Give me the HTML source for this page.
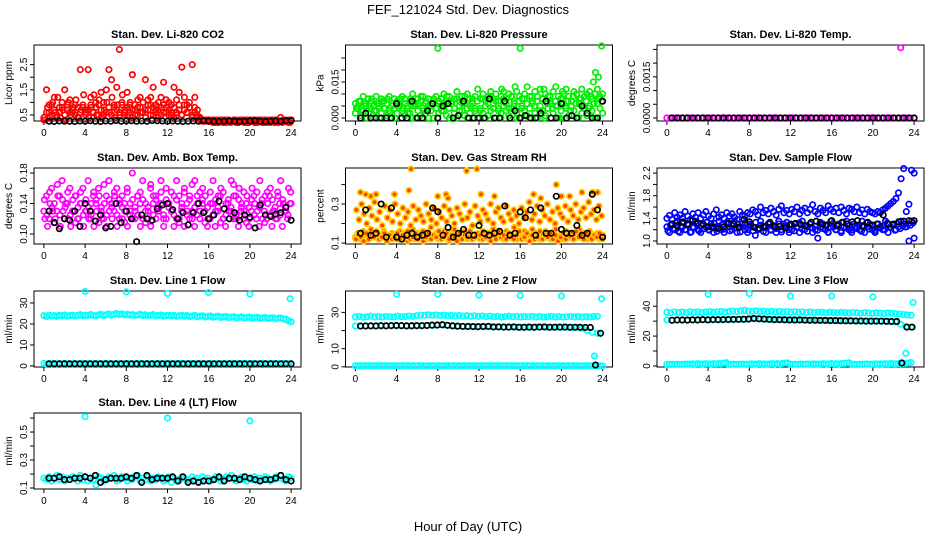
<!DOCTYPE html>
<html><head><meta charset="utf-8">
<style>
body{margin:0;background:#fff;}
svg{display:block;font-family:"Liberation Sans",sans-serif;}
</style></head>
<body>
<svg id="chart" width="936" height="540" viewBox="0 0 936 540">
<text x="468" y="14" text-anchor="middle" font-size="13">FEF_121024  Std. Dev. Diagnostics</text>
<text x="468" y="531" text-anchor="middle" font-size="13">Hour of Day (UTC)</text>
</svg>
<script>
// ---------- data ----------
const xTicks = [0,4,8,12,16,20,24];

const co2A = [0.3,1.5,0.6,0.9,1.2,0.5,0.8,1.0,1.5,0.7,1.1,0.6,0.9,0.4,2.3,0.8,
0.7,2.3,1.2,0.6,1.0,0.9,1.4,0.5,1.5,2.3,1.9,0.8,1.6,3.1,1.0,0.6,
1.4,0.9,2.1,0.5,0.8,1.2,0.6,1.9,1.1,0.9,1.6,0.7,1.0,1.2,1.8,0.8,
1.0,0.6,1.6,0.5,1.4,2.4,1.2,0.9,0.8,2.5,1.2,0.7,0.4,0.3,0.3,0.3,
0.3,0.2,0.3,0.2,0.3,0.3,0.2,0.3,0.25,0.3,0.2,0.3,0.3,0.2,0.3,0.25,
0.3,0.2,0.3,0.3,0.2,0.3,0.25,0.2,0.3,0.3,0.2,0.4,0.3,0.25,0.3,0.3];
const co2B = [0.4,0.6,0.9,0.5,0.7,0.4,0.6,0.8,0.5,0.9,0.6,0.7,0.5,0.8,0.6,0.9,
0.5,0.7,0.9,0.6,0.8,0.5,0.7,1.0,0.6,0.8,0.5,0.9,0.7,0.6,0.9,0.5,
0.8,0.6,0.7,0.9,0.5,0.8,0.6,0.7,0.9,0.5,0.8,0.6,0.7,0.5,0.9,0.6,
0.7,0.5,0.8,0.6,0.9,0.5,0.7,0.6,0.8,0.5,0.6,0.4,0.3,0.25,0.3,0.25,
0.25,0.3,0.2,0.25,0.3,0.25,0.2,0.3,0.25,0.3,0.2,0.25,0.3,0.25,0.2,0.3,
0.25,0.3,0.2,0.25,0.3,0.25,0.2,0.3,0.25,0.3,0.2,0.25,0.3,0.25,0.2,0.3];
const co2C = [0.3,0.8,0.4,1.0,0.6,1.2,0.4,0.7,0.3,1.0,0.5,0.8,1.1,0.4,0.7,1.3,
0.6,0.4,0.8,1.3,0.5,1.1,0.4,0.7,1.0,0.6,1.2,0.4,0.9,0.5,1.3,0.7,
0.5,1.0,0.4,0.7,1.1,0.6,1.0,0.4,0.7,1.2,0.5,0.9,0.4,0.8,0.6,1.1,
0.5,0.9,0.4,1.1,0.7,0.5,0.9,0.6,1.0,0.4,0.8,0.5,0.35,0.3,0.25,0.3,
0.3,0.25,0.2,0.3,0.25,0.2,0.3,0.3,0.2,0.25,0.3,0.2,0.25,0.3,0.3,0.2,
0.25,0.3,0.2,0.3,0.25,0.2,0.3,0.25,0.3,0.2,0.3,0.25,0.2,0.3,0.25,0.2];
const co2Black = [0.25,0.24,0.26,0.25,0.25,0.24,0.26,0.25,0.27,0.25,0.24,0.26,0.25,0.28,0.25,0.26,0.27,0.25,0.26,0.25,0.28,0.27,0.26,0.25,0.26,0.25,0.24,0.25,0.26,0.25,0.27,0.26,0.25,0.24,0.25,0.26,0.25,0.24,0.25,0.26,0.27,0.25,0.24,0.25,0.26,0.25,0.27,0.28];

const pressA = [0.006,0.005,0.007,0.009,0.006,0.008,0.007,0.005,0.009,0.006,0.008,0.007,0.006,0.009,0.005,0.008,
0.007,0.006,0.009,0.008,0.005,0.007,0.010,0.006,0.008,0.007,0.009,0.006,0.008,0.005,0.007,0.009,
0.006,0.008,0.010,0.007,0.009,0.006,0.008,0.011,0.007,0.009,0.006,0.010,0.008,0.007,0.009,0.012,
0.008,0.010,0.007,0.009,0.011,0.008,0.010,0.007,0.009,0.011,0.008,0.010,0.009,0.007,0.011,0.009,
0.008,0.010,0.013,0.009,0.007,0.011,0.009,0.012,0.008,0.010,0.009,0.007,0.011,0.013,0.009,0.008,
0.010,0.012,0.009,0.007,0.011,0.010,0.008,0.012,0.009,0.010,0.011,0.008,0.010,0.012,0.009,0.010];
const pressB = [0.002,0.004,0.001,0.003,0.005,0.002,0.004,0.000,0.003,0.005,0.002,0.004,0.001,0.003,0.000,0.004,
0.002,0.005,0.003,0.001,0.004,0.002,0.000,0.005,0.003,0.001,0.004,0.002,0.005,0.003,0.000,0.004,
0.002,0.005,0.003,0.001,0.004,0.006,0.002,0.000,0.005,0.003,0.001,0.004,0.002,0.006,0.003,0.000,
0.004,0.002,0.005,0.001,0.003,0.006,0.000,0.004,0.002,0.005,0.003,0.001,0.004,0.006,0.002,0.000,
0.005,0.003,0.001,0.004,0.006,0.002,0.000,0.005,0.003,0.001,0.004,0.006,0.002,0.005,0.000,0.003,
0.006,0.004,0.001,0.005,0.003,0.000,0.006,0.002,0.004,0.001,0.005,0.003,0.000,0.006,0.004,0.002];
const pressC = [0.004,0.007,0.003,0.006,0.000,0.005,0.008,0.003,0.006,0.000,0.007,0.004,0.008,0.002,0.006,0.000,
0.005,0.008,0.004,0.006,0.002,0.008,0.005,0.000,0.006,0.009,0.003,0.007,0.000,0.006,0.008,0.004,
0.007,0.003,0.006,0.009,0.000,0.007,0.004,0.008,0.003,0.006,0.009,0.000,0.005,0.008,0.004,0.007,
0.003,0.008,0.000,0.006,0.009,0.004,0.007,0.003,0.000,0.008,0.006,0.004,0.009,0.005,0.000,0.007,
0.004,0.008,0.006,0.000,0.009,0.005,0.007,0.003,0.008,0.000,0.006,0.009,0.004,0.007,0.005,0.000,
0.008,0.005,0.007,0.003,0.009,0.006,0.000,0.008,0.005,0.007,0.004,0.009,0.006,0.000,0.008,0.007];
const pressOutHours = [8,16,23.9,23.3,23.6,23.1,18.3,15.5,14.2,20.1];
const pressOutVals = [0.029,0.029,0.030,0.019,0.017,0.015,0.012,0.013,0.012,0.011];
const pressBlack = [0.000,0.002,0.000,0.000,0.000,0.000,0.000,0.006,0.000,0.000,0.007,0.000,0.000,0.003,0.006,0.000,0.005,0.006,0.000,0.001,0.007,0.000,0.000,0.000,0.000,0.008,0.000,0.000,0.007,0.000,0.003,0.000,0.001,0.000,0.000,0.002,0.007,0.000,0.000,0.006,0.000,0.001,0.000,0.005,0.002,0.000,0.000,0.007];

const tempMag = [0,0,0,0,0,0,0,0,0,0,0,0,0,0,0,0,0,0,0,0,0,0,0,0,0,0,0,0,0,0,0,0,0,0,0,0,0,0,0,0,0,0,0,0,0,0,0,0,0,0,0,0,0,0,0,0,0,0,0,0,0,0,0,0];
const tempBlack = [0,0,0,0,0,0,0,0,0,0,0,0,0,0,0,0,0,0,0,0,0,0,0,0,0,0,0,0,0,0,0,0,0,0,0,0,0,0,0,0,0,0,0,0,0,0,0,0];
const tempOutHours = [22.7];
const tempOutVals = [0.00256];

const ambA = [0.13,0.15,0.12,0.16,0.14,0.13,0.15,0.17,0.12,0.14,0.16,0.13,0.15,0.12,0.14,0.16,
0.13,0.17,0.12,0.15,0.14,0.16,0.13,0.12,0.15,0.17,0.14,0.13,0.16,0.12,0.15,0.14,
0.16,0.13,0.18,0.12,0.15,0.14,0.17,0.13,0.12,0.16,0.14,0.15,0.13,0.17,0.12,0.16,
0.14,0.13,0.15,0.17,0.12,0.14,0.16,0.13,0.15,0.12,0.17,0.14,0.13,0.16,0.15,0.12,
0.14,0.17,0.13,0.15,0.16,0.12,0.14,0.13,0.17,0.15,0.12,0.16,0.14,0.13,0.15,0.12,
0.16,0.14,0.13,0.17,0.12,0.15,0.14,0.16,0.13,0.12,0.15,0.17,0.14,0.13,0.16,0.14];
const ambB = [0.12,0.11,0.14,0.13,0.12,0.15,0.11,0.13,0.14,0.12,0.11,0.13,0.15,0.12,0.14,0.11,
0.13,0.12,0.14,0.11,0.13,0.15,0.12,0.14,0.11,0.13,0.12,0.15,0.11,0.14,0.12,0.13,
0.11,0.14,0.12,0.13,0.15,0.11,0.12,0.14,0.13,0.11,0.15,0.12,0.13,0.14,0.11,0.12,
0.14,0.13,0.11,0.12,0.15,0.13,0.11,0.14,0.12,0.13,0.11,0.15,0.12,0.14,0.13,0.11,
0.12,0.14,0.11,0.13,0.15,0.12,0.11,0.14,0.13,0.12,0.15,0.11,0.13,0.12,0.14,0.11,
0.13,0.15,0.12,0.11,0.14,0.13,0.12,0.15,0.11,0.13,0.12,0.14,0.11,0.13,0.12,0.14];
const ambC = [0.145,0.125,0.155,0.135,0.115,0.165,0.125,0.145,0.135,0.155,0.125,0.145,0.115,0.135,0.155,0.125,
0.145,0.135,0.125,0.155,0.145,0.115,0.135,0.165,0.125,0.145,0.135,0.155,0.125,0.145,0.135,0.115,
0.155,0.125,0.145,0.135,0.125,0.155,0.145,0.115,0.135,0.165,0.125,0.145,0.135,0.155,0.125,0.145,
0.135,0.155,0.125,0.145,0.115,0.135,0.155,0.125,0.145,0.165,0.135,0.125,0.155,0.145,0.115,0.135,
0.155,0.125,0.145,0.135,0.115,0.155,0.125,0.145,0.135,0.165,0.125,0.145,0.135,0.155,0.115,0.135,
0.145,0.125,0.155,0.135,0.145,0.115,0.155,0.125,0.145,0.135,0.155,0.125,0.145,0.135,0.125,0.155];
const ambBlack = [0.13,0.115,0.107,0.12,0.118,0.13,0.11,0.14,0.13,0.117,0.125,0.108,0.11,0.14,0.115,0.13,0.12,0.09,0.125,0.12,0.118,0.133,0.138,0.14,0.132,0.12,0.128,0.112,0.128,0.14,0.128,0.12,0.125,0.143,0.133,0.12,0.128,0.118,0.125,0.122,0.108,0.138,0.125,0.123,0.126,0.128,0.135,0.118];

const rhA = [0.13,0.15,0.12,0.16,0.14,0.12,0.17,0.13,0.15,0.12,0.14,0.16,0.13,0.12,0.15,0.14,
0.12,0.16,0.13,0.15,0.11,0.14,0.17,0.12,0.15,0.13,0.16,0.12,0.14,0.18,0.13,0.15,
0.12,0.14,0.16,0.13,0.11,0.15,0.17,0.12,0.14,0.13,0.16,0.12,0.15,0.19,0.13,0.14,
0.12,0.16,0.13,0.15,0.12,0.17,0.14,0.13,0.15,0.12,0.16,0.13,0.14,0.18,0.12,0.15,
0.13,0.16,0.12,0.14,0.17,0.13,0.15,0.12,0.14,0.16,0.13,0.12,0.15,0.17,0.13,0.14,
0.12,0.16,0.13,0.15,0.12,0.14,0.17,0.13,0.15,0.12,0.16,0.14,0.13,0.15,0.12,0.14];
const rhB = [0.27,0.22,0.30,0.25,0.20,0.28,0.24,0.31,0.22,0.26,0.19,0.29,0.23,0.27,0.21,0.30,
0.25,0.20,0.28,0.23,0.26,0.19,0.29,0.22,0.27,0.24,0.21,0.30,0.25,0.22,0.28,0.20,
0.26,0.23,0.29,0.21,0.27,0.24,0.20,0.28,0.25,0.22,0.30,0.23,0.26,0.19,0.29,0.24,
0.21,0.27,0.25,0.22,0.30,0.20,0.26,0.28,0.23,0.21,0.29,0.25,0.22,0.27,0.24,0.20,
0.28,0.23,0.26,0.31,0.22,0.25,0.29,0.21,0.27,0.24,0.30,0.22,0.26,0.20,0.28,0.25,
0.23,0.29,0.21,0.27,0.24,0.30,0.22,0.26,0.28,0.23,0.31,0.25,0.27,0.22,0.29,0.24];
const rhC = [0.12,0.14,0.13,0.11,0.15,0.12,0.14,0.13,0.16,0.12,0.13,0.15,0.11,0.14,0.12,0.13,
0.15,0.12,0.14,0.13,0.16,0.12,0.13,0.15,0.12,0.14,0.11,0.13,0.15,0.12,0.14,0.13,
0.16,0.12,0.13,0.15,0.12,0.14,0.13,0.11,0.15,0.12,0.14,0.13,0.16,0.12,0.13,0.15,
0.14,0.12,0.13,0.15,0.11,0.14,0.12,0.16,0.13,0.14,0.12,0.15,0.13,0.12,0.14,0.16,
0.12,0.13,0.15,0.11,0.14,0.12,0.13,0.16,0.12,0.14,0.13,0.15,0.12,0.14,0.11,0.13,
0.15,0.12,0.14,0.13,0.12,0.16,0.13,0.14,0.12,0.15,0.13,0.12,0.14,0.13,0.15,0.12];
const rhOutHours = [0.5,1.0,1.5,2.0,3.8,5.2,5.4,8.0,8.8,10.8,11.8,12.2,17.3,18.0,20.0,22.0,23.0,23.5,9.0,13.5,19.5,20.8];
const rhOutVals = [0.36,0.35,0.34,0.35,0.35,0.37,0.48,0.34,0.35,0.47,0.48,0.35,0.35,0.33,0.34,0.36,0.36,0.36,0.33,0.34,0.40,0.34];
const rhBlack = [0.15,0.27,0.14,0.15,0.30,0.13,0.28,0.13,0.12,0.14,0.15,0.13,0.14,0.15,0.28,0.26,0.14,0.18,0.13,0.15,0.17,0.14,0.14,0.19,0.15,0.14,0.15,0.16,0.29,0.14,0.15,0.26,0.23,0.27,0.14,0.28,0.15,0.15,0.34,0.17,0.15,0.15,0.19,0.14,0.15,0.35,0.27,0.13];

const sflowA = [1.25,1.15,1.30,1.20,1.35,1.15,1.25,1.20,1.30,1.15,1.25,1.35,1.20,1.15,1.30,1.25,
1.20,1.30,1.15,1.25,1.35,1.20,1.15,1.30,1.25,1.20,1.35,1.15,1.25,1.30,1.20,1.15,
1.30,1.25,1.10,1.20,1.35,1.25,1.15,1.30,1.20,1.25,1.15,1.35,1.20,1.30,1.25,1.15,
1.20,1.30,1.25,1.15,1.35,1.20,1.25,1.30,1.15,1.20,1.05,1.25,1.30,1.20,1.15,1.35,
1.25,1.20,1.30,1.15,1.25,1.35,1.20,1.15,1.30,1.25,1.20,1.35,1.15,1.25,1.30,1.20,
1.15,1.30,1.25,1.20,1.35,1.15,1.25,1.30,1.20,1.25,1.35,1.30,1.25,1.00,1.35,1.05];
const sflowB = [1.40,1.45,1.38,1.50,1.42,1.46,1.40,1.52,1.44,1.38,1.48,1.42,1.50,1.40,1.46,1.52,
1.44,1.40,1.48,1.55,1.42,1.46,1.40,1.50,1.44,1.48,1.42,1.38,1.52,1.46,1.44,1.50,
1.48,1.55,1.52,1.46,1.60,1.50,1.54,1.48,1.58,1.52,1.46,1.56,1.62,1.50,1.54,1.48,
1.56,1.52,1.60,1.48,1.54,1.58,1.50,1.56,1.64,1.52,1.48,1.58,1.54,1.50,1.62,1.56,
1.52,1.58,1.50,1.60,1.54,1.48,1.58,1.56,1.52,1.60,1.50,1.55,1.48,1.56,1.52,1.50,
1.48,1.52,1.50,1.55,1.58,1.62,1.66,1.70,1.75,1.85,2.10,2.28,1.52,1.65,2.25,2.20];
const sflowC = [1.18,1.28,1.22,1.32,1.17,1.26,1.34,1.20,1.28,1.16,1.24,1.30,1.18,1.27,1.22,1.33,
1.19,1.26,1.31,1.17,1.24,1.29,1.21,1.34,1.18,1.27,1.23,1.30,1.16,1.25,1.32,1.20,
1.27,1.18,1.33,1.22,1.28,1.17,1.25,1.31,1.19,1.27,1.22,1.30,1.16,1.26,1.33,1.20,
1.28,1.18,1.24,1.32,1.21,1.27,1.17,1.30,1.23,1.26,1.19,1.33,1.22,1.28,1.16,1.25,
1.31,1.20,1.27,1.18,1.33,1.23,1.26,1.19,1.30,1.22,1.28,1.17,1.25,1.32,1.21,1.27,
1.18,1.30,1.23,1.26,1.20,1.32,1.24,1.28,1.19,1.30,1.22,1.27,1.25,1.30,1.28,1.32];
const sflowBlack = [1.30,1.27,1.33,1.30,1.36,1.32,1.30,1.25,1.24,1.22,1.25,1.31,1.30,1.24,1.38,1.34,1.24,1.22,1.26,1.33,1.25,1.26,1.23,1.30,1.31,1.29,1.27,1.33,1.35,1.30,1.28,1.36,1.27,1.33,1.30,1.34,1.36,1.27,1.33,1.28,1.30,1.46,1.30,1.29,1.34,1.35,1.36,1.36];

const l1Top = [24,23.5,24.2,23.8,24,23.6,24.1,23.9,24.3,23.7,24,24.2,23.8,24.1,24.4,23.9,
24.2,24,24.5,24.1,23.8,24.3,24.6,24,24.4,24.8,24.2,24.6,25,24.5,24.8,24.3,
24.6,24.2,24.5,24.1,24.3,24.6,24,24.4,23.9,24.2,24.5,23.8,24.1,24.3,23.7,24,
24.2,23.8,24.1,23.6,23.9,24.2,23.7,24,23.5,23.8,24.1,23.4,23.7,23.9,23.3,23.6,
23.8,23.2,23.5,23.7,23.1,23.4,23.6,23,23.3,23.5,22.9,23.2,23.4,22.8,23.1,23.3,
22.8,23,23.2,22.7,22.9,23.1,22.6,22.8,23,22.5,22.7,22.9,22.4,22.3,21.5,21];
const l1Bottom = [1.2,1,1.1,1,1.2,1,1.1,1,1.2,1,1.1,1,1.2,1,1.1,1,1.2,1,1.1,1,1.2,1,1.1,1,
1.2,1,1.1,1,1.2,1,1.1,1,1.2,1,1.1,1,1.2,1,1.1,1,1.2,1,1.1,1,1.2,1,1.1,1,
1.2,1,1.1,1,1.2,1,1.1,1,1.2,1,1.1,1,1.2,1,1.1,1,1.2,1,1.1,1,1.2,1,1.1,1,
1.2,1,1.1,1,1.2,1,1.1,1,1.2,1,1.1,1,1.2,1,1.1,1,1.2,1,1.1,1,1.2,1,1.1,1];
const l1Black = [1,1,1,1,1,1,1,1,1,1,1,1,1,1,1,1,1,1,1,1,1,1,1,1,1,1,1,1,1,1,1,1,1,1,1,1,1,1,1,1,1,1,1,1,1,1,1,1];
const l1OutHours = [4,8,12,16,20,23.9];
const l1OutVals = [35.5,35.3,34.5,35,34.2,32];

const l2Top = [27.5,27.8,27.4,27.6,27.9,27.5,27.7,27.4,27.8,27.6,27.5,27.9,27.6,27.7,28,27.8,
28.2,28.5,28.3,28.7,28.4,28.6,28.3,28.5,28.2,28.4,28.1,28.3,28,28.2,27.9,28.1,
27.8,28,27.7,27.9,27.6,27.8,27.5,27.7,27.9,27.6,27.8,27.5,27.7,27.6,27.8,27.5,
27.7,27.4,27.6,27.8,27.5,27.7,27.4,27.6,27.8,27.5,27.7,27.4,27.6,27.5,27.7,27.8];
const l2Mid = [22.5,22.4,22.6,22.5,22.7,22.5,22.6,22.8,22.6,22.7,22.5,22.8,22.6,22.7,22.9,22.7,
23.2,23,22.8,22.6,22.5,22.3,22.4,22.2,22.3,22.1,22.2,22,22.1,22,21.9,22,
21.8,21.9,21.8,22,21.9,21.8,21.9,22,21.8,21.9,21.7,21.8,21.2,20,19,18.5];
const l2Bottom = [0.6,0.5,0.6,0.5,0.6,0.5,0.6,0.5,0.6,0.5,0.6,0.5,0.6,0.5,0.6,0.5,0.6,0.5,0.6,0.5,0.6,0.5,0.6,0.5,
0.6,0.5,0.6,0.5,0.6,0.5,0.6,0.5,0.6,0.5,0.6,0.5,0.6,0.5,0.6,0.5,0.6,0.5,0.6,0.5,0.6,0.5,0.6,0.5,
0.6,0.5,0.6,0.5,0.6,0.5,0.6,0.5,0.6,0.5,0.6,0.5,0.6,0.5,0.6,0.5,0.6,0.5,0.6,0.5,0.6,0.5,0.6,0.5,
0.6,0.5,0.6,0.5,0.6,0.5,0.6,0.5,0.6,0.5,0.6,0.5,0.6,0.5,0.6,0.5,0.6,0.5,0.6,0.5,0.6,0.5,0.6,0.5];
const l2Black = [22.5,22.5,22.6,22.5,22.7,22.6,22.7,22.8,22.7,22.6,22.6,22.7,22.7,22.8,23,23,23.2,22.9,22.6,22.4,22.3,22.2,22.2,22.1,22.2,22.3,22.0,22.0,21.9,21.9,22.0,21.8,21.8,21.9,21.8,21.9,22.0,21.8,21.8,21.9,21.9,21.8,21.8,21.8,21.7,21.7,1.0,18.5];
const l2OutHours = [4,8,12,16,20,23.9,23.2];
const l2OutVals = [40,40,39.5,39.3,39,37.5,6];

const l3Top = [36,35.6,36.2,35.8,36.1,35.7,36.3,35.9,36.2,35.8,36.1,36.4,35.9,36.2,36.5,36.1,
36.4,36.8,36.5,36.9,37.2,36.8,36.6,36.9,36.5,36.7,36.3,36.6,36.2,36.5,36.1,36.4,
36,36.3,35.9,36.2,35.8,36.1,35.7,36,35.9,35.6,36,35.8,35.5,35.9,35.7,35.4,
35.8,35.6,35.3,35.7,35.5,35.2,35.6,35.4,35.1,35.5,35.3,35,34.8,34.5,34.2,34];
const l3Mid = [30.8,30.6,30.9,30.7,31,30.8,30.9,31,30.8,31,30.9,31.1,31,31.2,31.3,31.1,
31.8,31.6,31.5,31.3,31.2,31,31.1,30.9,31,30.8,30.9,30.7,30.8,30.6,30.7,30.5,
30.6,30.4,30.5,30.3,30.4,30.2,30.3,30.1,30.2,30,30.1,29.9,29.5,28,26.5,26];
const l3Bottom = [1,0.9,1.1,1,1.2,1,1.1,1.2,1.3,1.2,1.4,1.3,1.5,1.4,1.3,1.5,1.4,1.3,1.5,1.4,1.6,1.5,1.8,2.2,
1,1.1,1.2,1,1.1,1.3,1.2,1.1,1.3,1.4,1.2,1.3,1.5,1.3,1.4,1.2,1.4,1.5,1.3,1.6,1.4,1.7,1.9,2.0,
1.1,1,1.2,1.1,1.3,1.1,1.2,1.3,1.2,1.4,1.3,1.2,1.4,1.5,1.3,1.4,1.6,1.4,1.5,1.3,1.7,1.6,1.9,2.1,
0.9,1.1,1,1.2,1.1,1.2,1.3,1.1,1.2,1.4,1.3,1.4,1.3,1.5,1.4,1.6,1.5,1.4,1.6,1.5,1.7,1.8,2.0,2.3];
const l3Black = [30.6,30.8,30.8,30.7,30.9,30.8,31,30.9,31,31,31,31.1,31.2,31.2,31.3,31.4,31.8,31.6,31.4,31.2,31,31,30.9,30.8,30.8,30.8,30.7,30.6,30.6,30.5,30.5,30.4,30.4,30.3,30.2,30.2,30.1,30.1,30.0,30,30,30,29.9,29.8,29.8,2,26,26];
const l3OutHours = [4,8,12,16,20,23.9,23.2];
const l3OutVals = [48,48.5,46.8,46.8,46.3,42.5,8.5];

const l4Cyan = [0.17,0.16,0.18,0.15,0.17,0.19,0.16,0.18,0.15,0.17,0.16,0.18,0.17,0.15,0.19,0.16,
0.18,0.15,0.17,0.16,0.12,0.18,0.17,0.15,0.16,0.18,0.17,0.19,0.15,0.16,0.18,0.17,
0.15,0.17,0.16,0.18,0.19,0.15,0.17,0.16,0.18,0.15,0.17,0.16,0.18,0.17,0.15,0.16,
0.18,0.14,0.17,0.16,0.15,0.18,0.17,0.16,0.15,0.18,0.16,0.17,0.15,0.18,0.16,0.17,
0.15,0.16,0.18,0.17,0.15,0.16,0.18,0.17,0.19,0.16,0.15,0.17,0.18,0.16,0.15,0.17,
0.16,0.18,0.15,0.17,0.16,0.18,0.17,0.15,0.16,0.18,0.17,0.19,0.16,0.15,0.18,0.17];
const l4Black = [0.17,0.17,0.18,0.16,0.16,0.17,0.17,0.18,0.17,0.19,0.14,0.16,0.17,0.17,0.17,0.18,0.17,0.19,0.14,0.19,0.16,0.17,0.17,0.17,0.18,0.15,0.18,0.14,0.15,0.14,0.15,0.15,0.16,0.18,0.15,0.17,0.17,0.16,0.18,0.17,0.16,0.15,0.16,0.16,0.17,0.19,0.16,0.15];
const l4OutHours = [4,12,20];
const l4OutVals = [0.61,0.60,0.58];

// ---------- rendering ----------
const NS = 'http://www.w3.org/2000/svg';
const svg = document.getElementById('chart');
const colX = [34, 345.5, 657];
const rowY = [45, 168, 291, 413];
const W = 267, H = 76;

function mk(tag, attrs, parent) {
  const e = document.createElementNS(NS, tag);
  for (const k in attrs) e.setAttribute(k, attrs[k]);
  (parent || svg).appendChild(e);
  return e;
}

const panels = [
  {t:'Stan. Dev. Li-820 CO2', yl:'Licor ppm', c:0, r:0, y0:0.26, y1:3.28, ticks:[0.5,1,1.5,2,2.5], labels:{'0.5':'0.5','1.5':'1.5','2.5':'2.5'},
   s:[[co2C,0.1,23.9,'#ff0000'],[co2B,0,24,'#ff0000'],[co2A,0,24,'#ff0000'],[co2Black,0.5,24,'#000']]},
  {t:'Stan. Dev. Li-820 Pressure', yl:'kPa', c:1, r:0, y0:-0.00125, y1:0.0304, ticks:[0,0.005,0.01,0.015,0.02,0.025], labels:{'0':'0.000','0.015':'0.015'},
   s:[[pressA,0,24,'#00ee00'],[pressB,0,24,'#00ee00'],[pressC,0.1,23.9,'#00ee00'],[pressOutVals,pressOutHours,null,'#00ee00'],[pressBlack,0.5,24,'#000']]},
  {t:'Stan. Dev. Li-820 Temp.', yl:'degrees C', c:2, r:0, y0:-0.00011, y1:0.00266, ticks:[0,0.0005,0.001,0.0015,0.002,0.0025], labels:{'0':'0.0000','0.0015':'0.0015'},
   s:[[tempMag,0,24,'#ff00ff'],[tempOutVals,tempOutHours,null,'#ff00ff'],[tempBlack,0.5,24,'#000']]},
  {t:'Stan. Dev. Amb. Box Temp.', yl:'degrees C', c:0, r:1, y0:0.0869, y1:0.1866, ticks:[0.10,0.12,0.14,0.16,0.18], labels:{'0.1':'0.10','0.14':'0.14','0.18':'0.18'},
   s:[[ambA,0,24,'#ff00ff'],[ambB,0.1,23.9,'#ff00ff'],[ambC,0.05,23.95,'#ff00ff'],[ambBlack,0.5,24,'#000']]},
  {t:'Stan. Dev. Gas Stream RH', yl:'percent', c:1, r:1, y0:0.095, y1:0.485, ticks:[0.1,0.2,0.3,0.4], labels:{'0.1':'0.1','0.3':'0.3'},
   s:[[rhA,0,24,'#ffcc00','#ff4000'],[rhB,0.1,23.9,'#ffcc00','#ff4000'],[rhC,0.05,23.95,'#ffcc00','#ff4000'],[rhOutVals,rhOutHours,null,'#ffcc00','#ff4000'],[rhBlack,0.5,24,'#000']]},
  {t:'Stan. Dev. Sample Flow', yl:'ml/min', c:2, r:1, y0:0.947, y1:2.29, ticks:[1.0,1.2,1.4,1.6,1.8,2.0,2.2], labels:{'1':'1.0','1.4':'1.4','1.8':'1.8','2.2':'2.2'},
   s:[[sflowA,0,24,'#0000ff'],[sflowC,0.1,23.9,'#0000ff'],[sflowB,0,24,'#0000ff'],[sflowBlack,0.5,24,'#000']]},
  {t:'Stan. Dev. Line 1 Flow', yl:'ml/min', c:0, r:2, y0:-0.5, y1:35.7, ticks:[0,10,20,30], labels:{'0':'0','10':'10','20':'20','30':'30'},
   s:[[l1Top,0,24,'#00ffff'],[l1Bottom,0,24,'#00ffff'],[l1OutVals,l1OutHours,null,'#00ffff'],[l1Black,0.5,24,'#000']]},
  {t:'Stan. Dev. Line 2 Flow', yl:'ml/min', c:1, r:2, y0:-0.1, y1:41.8, ticks:[0,10,20,30], labels:{'0':'0','10':'10','30':'30'},
   s:[[l2Top,0,23.5,'#00ffff'],[l2Mid,0,23.5,'#00ffff'],[l2Bottom,0,24,'#00ffff'],[l2OutVals,l2OutHours,null,'#00ffff'],[l2Black,0.5,23.8,'#000']]},
  {t:'Stan. Dev. Line 3 Flow', yl:'ml/min', c:2, r:2, y0:-0.7, y1:50.2, ticks:[0,10,20,30,40], labels:{'0':'0','20':'20','40':'40'},
   s:[[l3Top,0,23.7,'#00ffff'],[l3Mid,0,23.7,'#00ffff'],[l3Bottom,0,23.7,'#00ffff'],[l3OutVals,l3OutHours,null,'#00ffff'],[l3Black,0.5,23.8,'#000']]},
  {t:'Stan. Dev. Line 4 (LT) Flow', yl:'ml/min', c:0, r:3, y0:0.093, y1:0.636, ticks:[0.1,0.2,0.3,0.4,0.5,0.6], labels:{'0.1':'0.1','0.3':'0.3','0.5':'0.5'},
   s:[[l4Cyan,0,24,'#00ffff'],[l4OutVals,l4OutHours,null,'#00ffff'],[l4Black,0.5,24,'#000']]}
];

panels.forEach((p, pi) => {
  const L = colX[p.c], T = rowY[p.r], B = T + H;
  const g = mk('g', {});
  
  
  const xs = h => L + W * (h + 0.96) / 25.92;
  const ys = v => B - H * (v - p.y0) / (p.y1 - p.y0);

  const title = mk('text', {x: L + W / 2, y: T - 7, 'text-anchor': 'middle', 'font-size': 11, 'font-weight': 'bold'}, g);
  title.textContent = p.t;
  
  

  const box = mk('rect', {x: L, y: T, width: W, height: H, fill: 'none', stroke: '#000', 'stroke-width': 1}, g);
  
  

  const xa = mk('g', {}, g);
  
  
  xTicks.forEach(t => {
    mk('line', {x1: xs(t), x2: xs(t), y1: B, y2: B + 4, stroke: '#000'}, xa);
    const tl = mk('text', {x: xs(t), y: B + 15, 'text-anchor': 'middle', 'font-size': 10}, xa);
    tl.textContent = t;
    
    
  });

  const ya = mk('g', {}, g);
  
  
  p.ticks.forEach(t => {
    const y = ys(t);
    mk('line', {x1: L, x2: L - 4, y1: y, y2: y, stroke: '#000'}, ya);
    const lab = p.labels[String(t)];
    if (lab !== undefined) {
      const tl = mk('text', {x: L - 7, y: y, 'text-anchor': 'middle', 'font-size': 10, transform: 'rotate(-90 ' + (L - 7) + ' ' + y + ')'}, ya);
      tl.textContent = lab;
      
      
    }
  });
  const yt = mk('text', {x: L - 22, y: T + H / 2, 'text-anchor': 'middle', 'font-size': 10, transform: 'rotate(-90 ' + (L - 22) + ' ' + (T + H / 2) + ')'}, g);
  yt.textContent = p.yl;
  
  

  p.s.forEach(se => {
    const vals = se[0], col = se[3], fill = se[4] || 'none';
    const sg = mk('g', {fill: fill, stroke: col, 'stroke-width': 1.7}, g);
    
    
    vals.forEach((v, i) => {
      let h;
      if (Array.isArray(se[1])) h = se[1][i];
      else h = se[1] + (vals.length > 1 ? i * (se[2] - se[1]) / (vals.length - 1) : 0);
      const c = mk('circle', {cx: xs(h), cy: ys(v), r: 2.7}, sg);
      
      
    });
  });
});
</script>
</body></html>
